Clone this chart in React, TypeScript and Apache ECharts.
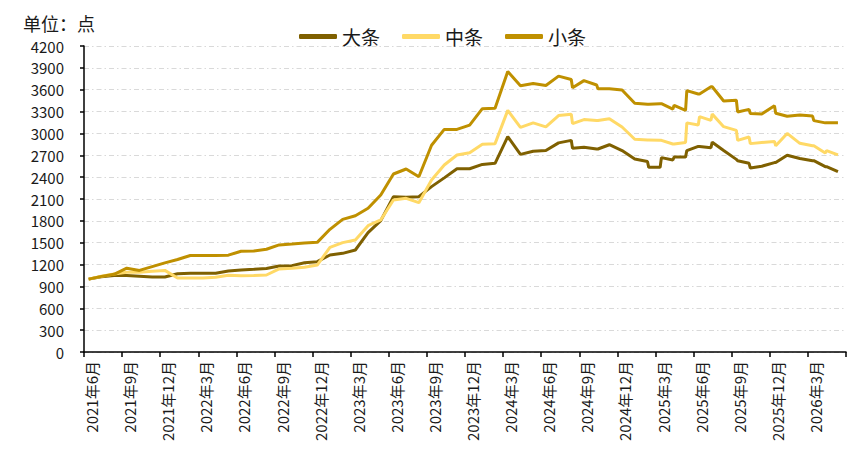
import React, { useEffect, useRef } from 'react';
import * as echarts from 'echarts';

// observation dates (mid-month, plus a few extra close-by points where the index jumps)
const dates = [
  '2021-06-12', '2021-07-12', '2021-08-12', '2021-09-12', '2021-10-12', '2021-11-12', '2021-12-12',
  '2022-01-12', '2022-02-12', '2022-03-12', '2022-04-12', '2022-05-12', '2022-06-12', '2022-07-12',
  '2022-08-12', '2022-09-12', '2022-10-12', '2022-11-12', '2022-12-12',
  '2023-01-12', '2023-02-12', '2023-03-12', '2023-04-12', '2023-05-12', '2023-06-12', '2023-07-12',
  '2023-08-12', '2023-09-12', '2023-10-12', '2023-11-12', '2023-12-12',
  '2024-01-12', '2024-02-12', '2024-03-12', '2024-04-12', '2024-05-12', '2024-06-12', '2024-07-12',
  '2024-08-12', '2024-08-15', '2024-09-12', '2024-10-12', '2024-10-15', '2024-11-12', '2024-12-12',
  '2025-01-12', '2025-02-12', '2025-02-15', '2025-03-12', '2025-03-15', '2025-04-12', '2025-04-15',
  '2025-05-12', '2025-05-15', '2025-06-12', '2025-06-15', '2025-07-12', '2025-07-15', '2025-08-12',
  '2025-09-12', '2025-09-15', '2025-10-12', '2025-10-15', '2025-11-12', '2025-12-12', '2025-12-15',
  '2026-01-12', '2026-02-12', '2026-03-12', '2026-03-15', '2026-04-12', '2026-04-15', '2026-05-12',
];

const bigValues = [
  1000, 1034, 1050, 1050, 1040, 1030, 1030,
  1075, 1080, 1080, 1080, 1112, 1126, 1135,
  1145, 1180, 1185, 1226, 1240,
  1331, 1354, 1400, 1638, 1803, 2132, 2125,
  2132, 2270, 2390, 2515, 2515,
  2575, 2590, 2955, 2713, 2755, 2765, 2870,
  2905, 2795, 2810, 2786, 2786, 2845, 2765,
  2650, 2615, 2535, 2535, 2668, 2635, 2675,
  2675, 2765, 2822, 2822, 2805, 2880, 2765,
  2644, 2626, 2590, 2525, 2550, 2600, 2600,
  2700, 2655, 2626, 2626, 2544, 2544, 2475,
];

const midValues = [
  1000, 1040, 1070, 1094, 1094, 1108, 1120,
  1015, 1015, 1015, 1025, 1052, 1048, 1050,
  1057, 1140, 1148, 1162, 1194,
  1437, 1501, 1537, 1734, 1812, 2086, 2109,
  2050, 2361, 2567, 2704, 2736,
  2850, 2860, 3316, 3084, 3145, 3090, 3245,
  3264, 3134, 3190, 3177, 3177, 3202, 3088,
  2920, 2910, 2910, 2905, 2905, 2855, 2855,
  2876, 3145, 3116, 3230, 3180, 3265, 3093,
  3042, 2905, 2951, 2860, 2875, 2890, 2830,
  3000, 2864, 2830, 2830, 2730, 2765, 2705,
];

const smallValues = [
  1000, 1038, 1066, 1150, 1120, 1172, 1223,
  1269, 1325, 1325, 1325, 1329, 1383, 1385,
  1410, 1470, 1482, 1496, 1505,
  1684, 1821, 1871, 1972, 2155, 2443, 2512,
  2406, 2838, 3055, 3055, 3115,
  3340, 3345, 3850, 3655, 3685, 3657, 3786,
  3740, 3626, 3725, 3665, 3613, 3612, 3597,
  3414, 3400, 3400, 3408, 3408, 3335, 3386,
  3315, 3588, 3542, 3542, 3640, 3640, 3446,
  3455, 3295, 3330, 3272, 3268, 3380, 3276,
  3235, 3253, 3238, 3176, 3145, 3145, 3145,
];

const tickLabels = [
  '2021年6月', '2021年9月', '2021年12月', '2022年3月', '2022年6月', '2022年9月', '2022年12月',
  '2023年3月', '2023年6月', '2023年9月', '2023年12月', '2024年3月', '2024年6月', '2024年9月',
  '2024年12月', '2025年3月', '2025年6月', '2025年9月', '2025年12月', '2026年3月',
];

const seriesNames = ['大条', '中条', '小条'];
const seriesColors = ['#7F6000', '#FFD966', '#BF9000'];

// months since 2021-06-01, used as the x value
const toMonth = (d: string) => {
  const [y, m, day] = d.split('-').map(Number);
  return (y - 2021) * 12 + (m - 6) + (day - 1) / 30;
};

const pair = (values: number[]) => values.map((v, i) => [toMonth(dates[i]), v]);

const App: React.FC = () => {
  const chartRef = useRef<HTMLDivElement>(null);

  useEffect(() => {
    if (!chartRef.current) return;
    const chart = echarts.init(chartRef.current, undefined, { renderer: 'svg' });
    const font = "'Noto Sans CJK SC', 'Noto Sans', sans-serif";
    chart.setOption({
      animation: false,
      textStyle: { fontFamily: font },
      title: {
        text: '单位：点',
        left: 18,
        top: 9,
        textStyle: { fontSize: 18, fontWeight: 'normal', color: '#1a1a1a', fontFamily: font },
      },
      legend: {
        top: 22,
        left: 294,
        icon: 'roundRect',
        itemWidth: 38,
        itemHeight: 5,
        itemGap: 22,
        textStyle: { fontSize: 19, color: '#1a1a1a', fontFamily: font },
        data: seriesNames,
      },
      grid: { left: 84, right: 19, top: 46, bottom: 106 },
      xAxis: {
        type: 'value',
        min: 0,
        max: 60,
        interval: 3,
        axisLine: { lineStyle: { color: '#000', width: 1.5 } },
        axisTick: { show: true, length: 5, lineStyle: { color: '#000', width: 1.5 } },
        splitLine: { show: false },
        axisLabel: {
          rotate: 90,
          fontSize: 15,
          color: '#1a1a1a',
          margin: 9,
          verticalAlign: 'top',
          formatter: (v: number) => tickLabels[Math.round(v / 3)] ?? '',
        },
      },
      yAxis: {
        type: 'value',
        min: 0,
        max: 4200,
        interval: 300,
        axisLine: { show: true, lineStyle: { color: '#000', width: 1.5 } },
        axisTick: { show: true, length: 4, lineStyle: { color: '#000', width: 1.5 } },
        splitLine: { lineStyle: { color: '#d9d9d9', width: 1, type: [5, 3, 1.5, 3] } },
        axisLabel: { fontSize: 15, color: '#1a1a1a', margin: 20, formatter: (v: number) => String(v) },
      },
      series: [bigValues, midValues, smallValues].map((vals, i) => ({
        name: seriesNames[i],
        type: 'line',
        data: pair(vals),
        symbol: 'none',
        color: seriesColors[i],
        lineStyle: { width: 3, color: seriesColors[i] },
      })),
    });
    return () => chart.dispose();
  }, []);

  return (
    <div
      ref={chartRef}
      style={{ position: 'fixed', left: 0, top: 0, width: 865, height: 458, background: '#fff' }}
    />
  );
};

export default App;
